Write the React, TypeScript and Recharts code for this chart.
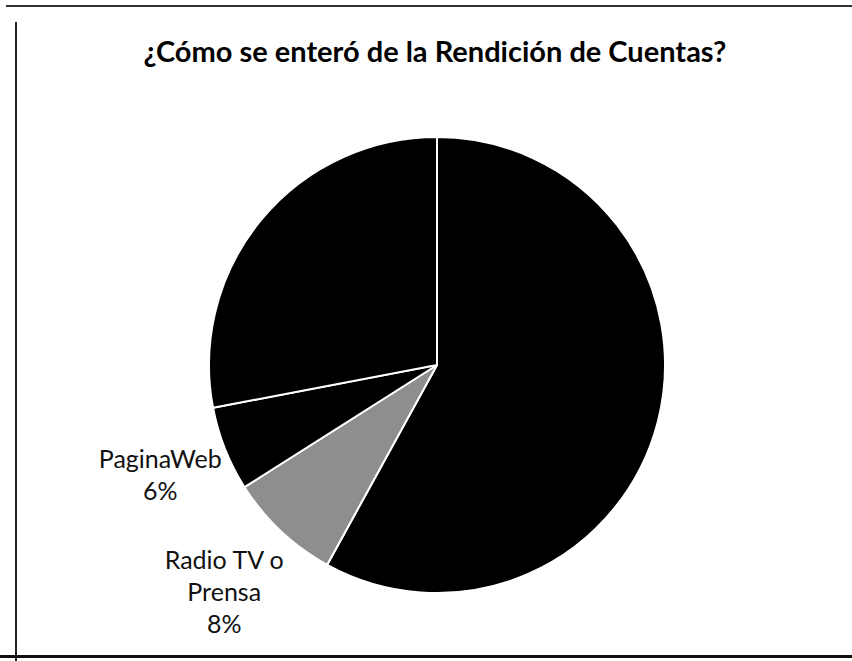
import React from "react";
import { PieChart, Pie, Cell } from "recharts";

const title = "¿Cómo se enteró de la Rendición de Cuentas?";
const categories = ["Invitación", "Radio TV o Prensa", "PaginaWeb", "Otros"];
const values = [58, 8, 6, 28];
const showLabel = [false, true, true, false];
const colors = ["#000000", "#8e8e8e", "#000000", "#000000"];

const data = categories.map((name, i) => ({ name, value: values[i], show: showLabel[i] }));

const RAD = Math.PI / 180;
const FONT = "Lato, 'Open Sans', sans-serif";

function wrap(name: string, max: number): string[] {
  const words = name.split(" ");
  const lines: string[] = [];
  let cur = "";
  for (const w of words) {
    const next = cur ? cur + " " + w : w;
    if (next.length > max && cur) {
      lines.push(cur);
      cur = w;
    } else cur = next;
  }
  if (cur) lines.push(cur);
  return lines;
}

const renderLabel = (props: any) => {
  const { cx, cy, midAngle, outerRadius, percent, name, index } = props;
  if (!showLabel[index]) return null;
  const lines = [...wrap(name, 10), `${Math.round(percent * 100)}%`];
  const lh = 32;
  const maxChars = Math.max(...lines.map((l) => l.length));
  const w = maxChars * 13.1;
  const h = lines.length * lh;
  const c = Math.cos(-midAngle * RAD);
  const s = Math.sin(-midAngle * RAD);
  const dist = outerRadius + Math.abs(c) * (w / 2) + Math.abs(s) * (h / 2) + 3;
  const lx = cx + dist * c;
  const ly = cy + dist * s;
  const top = ly - h / 2;
  return (
    <text textAnchor="middle" fontFamily={FONT} fontSize={25} fill="#111">
      {lines.map((l, i) => (
        <tspan key={i} x={lx} y={top + 25 + i * lh}>
          {l}
        </tspan>
      ))}
    </text>
  );
};

export default function App() {
  return (
    <div style={{ position: "fixed", left: 0, top: 0, width: 852, height: 661, background: "#fff", overflow: "hidden" }}>
      <div style={{ position: "absolute", left: 6, top: 5, width: 846, height: 2, background: "#333" }} />
      <div style={{ position: "absolute", left: 15, top: 22, width: 2, height: 639, background: "#222" }} />
      <div style={{ position: "absolute", left: 0, top: 655, width: 852, height: 3, background: "#111" }} />
      <div
        style={{
          position: "absolute",
          left: 0,
          width: 870,
          top: 35,
          textAlign: "center",
          fontFamily: FONT,
          fontWeight: 700,
          fontSize: 29,
          color: "#000",
          lineHeight: "32px",
          whiteSpace: "nowrap",
        }}
      >
        {title}
      </div>
      <div style={{ position: "absolute", left: 0, top: 0 }}>
        <PieChart width={852} height={661} margin={{ top: 0, right: 0, bottom: 0, left: 0 }}>
          <Pie
            data={data}
            dataKey="value"
            nameKey="name"
            cx={437}
            cy={365}
            outerRadius={228}
            startAngle={90}
            endAngle={-270}
            stroke="#ffffff"
            strokeWidth={2}
            label={renderLabel}
            labelLine={false}
            isAnimationActive={false}
          >
            {data.map((d, i) => (
              <Cell key={d.name} fill={colors[i]} />
            ))}
          </Pie>
        </PieChart>
      </div>
    </div>
  );
}
